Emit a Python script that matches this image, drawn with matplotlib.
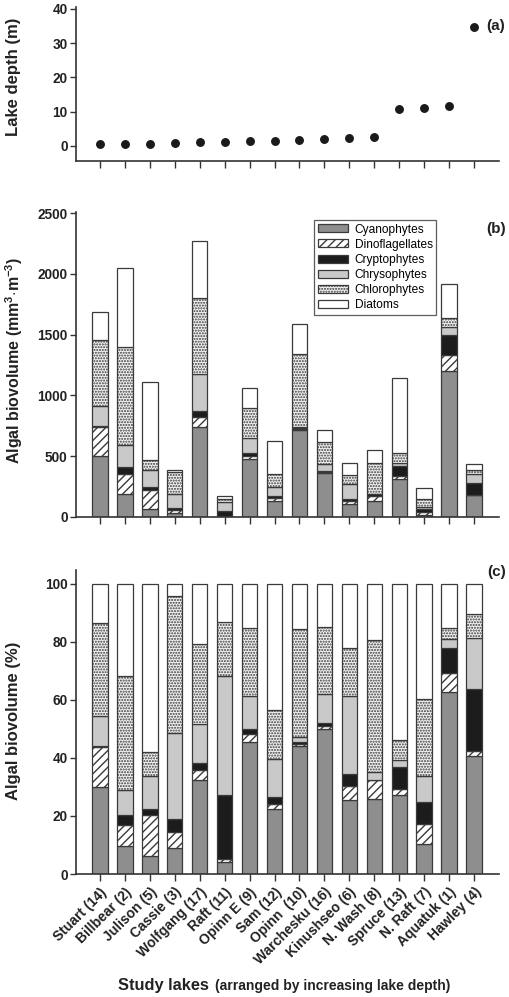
import matplotlib
matplotlib.use("Agg")
import matplotlib.pyplot as plt
import numpy as np

plt.rcParams['font.family'] = ['Liberation Sans', 'DejaVu Sans']
plt.rcParams['hatch.linewidth'] = 1.0
plt.rcParams['mathtext.fontset'] = 'custom'
plt.rcParams['mathtext.rm'] = 'Liberation Sans:bold'
plt.rcParams['mathtext.bf'] = 'Liberation Sans:bold'

lakes = ["Stuart (14)", "Billbear (2)", "Julison (5)", "Cassie (3)", "Wolfgang (17)",
         "Raft (11)", "Opinn E (9)", "Sam (12)", "Opinn  (10)", "Warchesku (16)",
         "Kinushseo (6)", "N. Wash (8)", "Spruce (13)", "N. Raft (7)", "Aquatuk (1)", "Hawley (4)"]

depth = [0.6, 0.6, 0.7, 0.8, 1.0, 1.1, 1.4, 1.5, 1.8, 2.0, 2.3, 2.5, 10.8, 11.0, 11.6, 34.6]

groups = ["Cyanophytes", "Dinoflagellates", "Cryptophytes", "Chrysophytes", "Chlorophytes", "Diatoms"]

# Panel (b): cumulative tops (mm3 m-3)
cum_b = {
    "Cyanophytes":     [505, 192, 69, 35, 740, 7, 480, 135, 714, 363, 110, 132, 310, 20, 1203, 179],
    "Dinoflagellates": [739, 350, 225, 56, 825, 9, 505, 153, 725, 371, 132, 176, 335, 45, 1332, 184],
    "Cryptophytes":    [750, 412, 247, 73, 872, 47, 530, 170, 731, 379, 151, 187, 418, 62, 1497, 280],
    "Chrysophytes":    [915, 596, 385, 189, 1180, 120, 651, 247, 742, 440, 269, 192, 445, 82, 1560, 352],
    "Chlorophytes":    [1459, 1398, 467, 370, 1805, 152, 898, 352, 1341, 615, 346, 445, 527, 146, 1635, 390],
    "Diatoms":         [1687, 2047, 1110, 385, 2275, 175, 1063, 626, 1588, 720, 442, 555, 1143, 242, 1920, 434],
}

# Panel (c): cumulative tops (%)
cum_c = {
    "Cyanophytes":     [30.0, 9.7, 6.3, 8.8, 32.5, 4.0, 45.5, 22.5, 44.1, 50.1, 25.6, 25.9, 27.1, 10.2, 62.8, 40.7],
    "Dinoflagellates": [43.8, 16.8, 20.5, 14.5, 35.7, 5.0, 48.4, 24.2, 44.9, 51.0, 30.5, 32.3, 29.4, 17.4, 69.4, 42.4],
    "Cryptophytes":    [44.1, 20.2, 22.3, 18.9, 38.4, 27.1, 50.1, 26.7, 45.5, 52.2, 34.6, 32.5, 36.9, 24.8, 77.8, 63.9],
    "Chrysophytes":    [54.5, 29.0, 33.8, 48.7, 51.8, 68.3, 61.3, 39.5, 47.2, 62.0, 61.4, 35.1, 39.2, 33.8, 81.0, 81.5],
    "Chlorophytes":    [86.4, 68.3, 41.9, 96.0, 79.3, 87.0, 84.7, 56.7, 84.4, 85.0, 78.0, 80.6, 46.3, 60.5, 84.7, 89.6],
    "Diatoms":         [100]*16,
}

styles = {
    "Cyanophytes":     dict(facecolor="#8e8e8e", hatch=None),
    "Dinoflagellates": dict(facecolor="white", hatch="////"),
    "Cryptophytes":    dict(facecolor="#1c1c1c", hatch=None),
    "Chrysophytes":    dict(facecolor="#c9c9c9", hatch=None),
    "Chlorophytes":    dict(facecolor="#f2f2f2", hatch="......"),
    "Diatoms":         dict(facecolor="white", hatch=None),
}

W, H = 510, 997
fig = plt.figure(figsize=(W/100, H/100), dpi=100)

def fr(x0, y0, x1, y1):
    return [x0/W, 1 - y1/H, (x1-x0)/W, (y1-y0)/H]

axc_ = "#333333"
txt = "#222222"
x = np.arange(len(lakes))
xlim = (-0.96, 16.0)

def style_ax(ax):
    for s in ["top", "right"]:
        ax.spines[s].set_visible(False)
    for s in ["left", "bottom"]:
        ax.spines[s].set_color(axc_)
        ax.spines[s].set_linewidth(1.2)
    ax.tick_params(axis="both", direction="out", color=axc_, width=1.0, labelsize=9.8)
    ax.tick_params(axis="y", length=4, pad=2)
    ax.tick_params(axis="x", length=5)
    for lab in ax.get_yticklabels():
        lab.set_fontweight("bold")
        lab.set_color(txt)
    ax.set_xlim(*xlim)
    ax.set_xticks(x)

def ylab(ax, text, yc, size=12):
    fig.text(14/W, 1 - yc/H, text, rotation=90, fontsize=size, fontweight="bold",
             color=txt, ha="center", va="center")

# Panel (a)
axa = fig.add_axes(fr(76, 7, 499, 161))
axa.plot(x, depth, "o", color="#1a1a1a", markersize=5.4, linestyle="none")
axa.set_ylim(-4.4, 40.5)
axa.set_yticks([0, 10, 20, 30, 40])
style_ax(axa)
axa.set_xticklabels([])
ylab(axa, "Lake depth (m)", 77)
fig.text(496/W, 1-26/H, "(a)", fontsize=11, fontweight="bold", ha="center", va="center", color=txt)

def stacked(ax, cum):
    prev = np.zeros(len(lakes))
    for g in groups:
        top = np.array(cum[g], dtype=float)
        st = styles[g]
        ax.bar(x, top - prev, bottom=prev, width=0.62, color=st["facecolor"],
               edgecolor="#3a3a3a", linewidth=0.9, hatch=st["hatch"], label=g)
        prev = top

# Panel (b)
axb = fig.add_axes(fr(76, 212, 499, 517))
stacked(axb, cum_b)
axb.set_ylim(0, 2510)
axb.set_yticks([0, 500, 1000, 1500, 2000, 2500])
style_ax(axb)
axb.set_xticklabels([])
ylab(axb, "Algal biovolume (mm$^{3}$$\\cdot$m$^{-3}$)", 360, size=11.5)
leg = axb.legend(loc="upper left", bbox_to_anchor=(0.563, 0.974), borderaxespad=0,
                 fontsize=8.6, frameon=True, fancybox=False, edgecolor="#333333",
                 handlelength=2.5, handleheight=0.65, labelspacing=0.26, handletextpad=0.6,
                 borderpad=0.3)
leg.get_frame().set_linewidth(0.9)
fig.text(496/W, 1-229/H, "(b)", fontsize=11, fontweight="bold", ha="center", va="center", color=txt)

# Panel (c)
axcc = fig.add_axes(fr(76, 570, 499, 874))
stacked(axcc, cum_c)
axcc.set_ylim(0, 104.8)
axcc.set_yticks([0, 20, 40, 60, 80, 100])
style_ax(axcc)
axcc.set_xticklabels(lakes, rotation=45, ha="right", rotation_mode="anchor",
                     fontsize=10, fontweight="bold", color=txt)
axcc.tick_params(axis="x", pad=3)
ylab(axcc, "Algal biovolume (%)", 721)
fig.text(497/W, 1-572/H, "(c)", fontsize=11, fontweight="bold", ha="center", va="center", color=txt)

fig.text(118/W, 1-985/H, "Study lakes ", fontsize=11.8, fontweight="bold", ha="left", va="center",
         color=txt)
fig.text(215/W, 1-986/H, "(arranged by increasing lake depth)", fontsize=10, fontweight="bold",
         ha="left", va="center", color=txt)

fig.savefig("out.png", dpi=100)
